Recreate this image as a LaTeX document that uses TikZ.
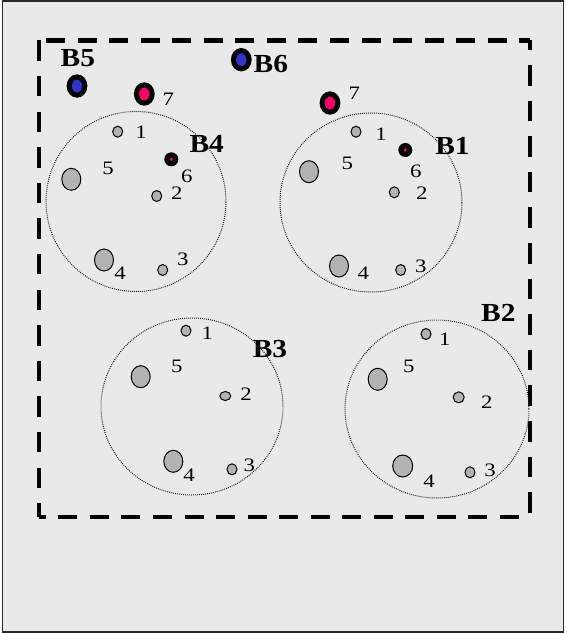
\documentclass[tikz,border=0pt]{standalone}
\usepackage{fontspec}
\setmainfont{Liberation Serif}
\newfontfamily\numfont[FakeStretch=1.2]{Liberation Serif}
\newfontfamily\labfont[FakeStretch=1.13]{Liberation Serif}
\usetikzlibrary{shapes.geometric}
\definecolor{bgc}{RGB}{233,233,233}
\definecolor{bordc}{RGB}{40,40,40}
\definecolor{gfill}{RGB}{179,179,179}
\definecolor{sinkred}{RGB}{255,0,102}
\definecolor{nodeblue}{RGB}{51,51,204}
\tikzset{
  bgframe/.style={fill=bgc, draw=bordc, line width=1.5pt},
  dside/.style={line width=4.4pt, line cap=butt},
  region/.style={ellipse, draw=black!90, dash pattern=on 0.9pt off 1.1pt, line width=1pt, inner sep=0pt},
  smallg/.style={ellipse, draw=black, fill=gfill, line width=1pt, minimum width=10pt, minimum height=11pt, inner sep=0pt},
  largeg/.style={smallg, minimum width=19pt, minimum height=22pt},
  sinkdot/.style={circle, fill=black, minimum size=14pt, inner sep=0pt},
  sinkcore/.style={circle, fill=sinkred, minimum size=3.6pt, inner sep=0pt},
  bignode/.style={ellipse, draw=black, line width=5pt, minimum width=15.7pt, minimum height=18.3pt, inner sep=0pt},
  rednode/.style={bignode, fill=sinkred},
  bluenode/.style={bignode, fill=nodeblue},
  numlab/.style={inner sep=0pt, font=\numfont\fontsize{19}{19}\selectfont, text height=12.8pt, text depth=0pt},
  blab/.style={inner sep=0pt, font=\labfont\bfseries\fontsize{26}{26}\selectfont, text height=17.2pt, text depth=0pt}
}
\begin{document}
\begin{tikzpicture}[x=1pt, y=-1pt]
\useasboundingbox (0,0) rectangle (566,633);
\draw[bgframe] (2.5,1) rectangle (563.5,632);

% dashed boundary
\coordinate (tl) at (38.7,40.3);
\coordinate (tr) at (530,40.3);
\coordinate (bl) at (38.7,516.7);
\coordinate (br) at (530,516.7);
\draw[dside, dash pattern=on 20.5pt off 15.1pt, dash phase=0pt] (tl) -- (bl);
\draw[dside, dash pattern=on 20.5pt off 15.1pt, dash phase=10.9pt] (tr) -- (br);
\draw[dside, dash pattern=on 19pt off 12.55pt, dash phase=24.25pt] (tl) -- (tr);
\draw[dside, dash pattern=on 19pt off 12.55pt, dash phase=11.95pt] (bl) -- (br);

% regions
\node[region, minimum width=180pt, minimum height=180pt] (c4) at (136,201.5) {};
\node[region, minimum width=182pt, minimum height=179pt] (c1) at (371,202.5) {};
\node[region, minimum width=182pt, minimum height=177pt] (c3) at (192,406.5) {};
\node[region, minimum width=184pt, minimum height=178pt] (c2) at (437,409) {};

% top nodes
\node[blab] (lB5) at (77.8,57.5) {B5};
\node[bluenode] (n5) at (77,86) {};
\node[bluenode] (n6) at (241.3,59.7) {};
\node[blab] (lB6) at (270.8,64) {B6};
\node[rednode] (r47) at (144.3,94) {};
\node[numlab] (l47) at (168.3,99.5) {7};
\node[rednode] (r17) at (330,103) {};
\node[numlab] (l17) at (354.2,92.8) {7};

% B4
\node[smallg] (g41) at (117.7,131.7) {};
\node[numlab] (l41) at (141,131.7) {1};
\node[largeg] (g45) at (71.3,179.3) {};
\node[numlab] (l45) at (108,168) {5};
\node[sinkdot] (s46) at (171.3,159.3) {};
\node[sinkcore] (s46c) at (s46.center) {};
\node[numlab] (l46) at (186.7,176) {6};
\node[smallg] (g42) at (156.7,196) {};
\node[numlab] (l42) at (176.7,193.3) {2};
\node[largeg] (g44) at (104,260) {};
\node[numlab] (l44) at (120,273.3) {4};
\node[smallg] (g43) at (162.7,270) {};
\node[numlab] (l43) at (182.7,259.3) {3};
\node[blab] (lB4) at (206.7,144) {B4};

% B1
\node[smallg] (g11) at (356,131.7) {};
\node[numlab] (l11) at (381,134) {1};
\node[sinkdot] (s16) at (405.3,150) {};
\node[sinkcore] (s16c) at (s16.center) {};
\node[numlab] (l16) at (415.7,171) {6};
\node[largeg] (g15) at (309,171.7) {};
\node[numlab] (l15) at (347.3,163.3) {5};
\node[smallg] (g12) at (394.3,192.3) {};
\node[numlab] (l12) at (421.7,193.3) {2};
\node[largeg] (g14) at (339,266) {};
\node[numlab] (l14) at (363.3,273.3) {4};
\node[smallg] (g13) at (400.7,270) {};
\node[numlab] (l13) at (420.7,265.7) {3};
\node[blab] (lB1) at (452.5,145.5) {B1};

% B3
\node[smallg] (g31) at (186,330.7) {};
\node[numlab] (l31) at (207.3,333.3) {1};
\node[largeg] (g35) at (140.7,376.7) {};
\node[numlab] (l35) at (176.7,366) {5};
\node[smallg, minimum width=11pt, minimum height=9pt] (g32) at (225.3,396) {};
\node[numlab] (l32) at (246,394) {2};
\node[largeg] (g34) at (173.3,461.3) {};
\node[numlab] (l34) at (189,475) {4};
\node[smallg] (g33) at (232,469.3) {};
\node[numlab] (l33) at (249.3,465) {3};
\node[blab] (lB3) at (270,349.3) {B3};

% B2
\node[smallg] (g21) at (426,334) {};
\node[numlab] (l21) at (444.7,339.3) {1};
\node[largeg] (g25) at (377.7,379.3) {};
\node[numlab] (l25) at (408.7,366) {5};
\node[smallg, minimum width=11pt, minimum height=11pt] (g22) at (458.7,397.3) {};
\node[numlab] (l22) at (486.7,401.7) {2};
\node[largeg, minimum width=20pt] (g24) at (402.7,466) {};
\node[numlab] (l24) at (429,480.7) {4};
\node[smallg] (g23) at (470,472.3) {};
\node[numlab] (l23) at (490,470) {3};
\node[blab] (lB2) at (498.3,313.3) {B2};
\end{tikzpicture}
\end{document}
